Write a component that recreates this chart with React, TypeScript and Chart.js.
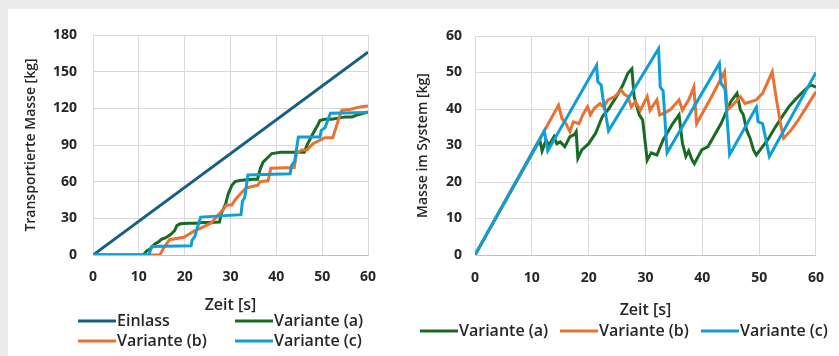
import React, { useEffect, useRef } from "react";
import { Chart, registerables } from "chart.js";

Chart.register(...registerables);

const FONT_FAMILY = "'Open Sans', 'DejaVu Sans', sans-serif";
const TEXT_COLOR = "#262626";
const GRID_COLOR = "#d9d9d9";
const AXIS_COLOR = "#bfbfbf";

// ---- series meta ----
const seriesNames = ["Einlass", "Variante (a)", "Variante (b)", "Variante (c)"];
const seriesColors = ["#156082", "#196B24", "#E97132", "#0F9ED5"];

// ---- axis tick settings ----
const timeTicks = { min: 0, max: 60, step: 10 };
const transportTicks = { min: 0, max: 180, step: 30 };
const systemTicks = { min: 0, max: 60, step: 10 };

// ---- left chart: Transportierte Masse [kg] ----
const einlassT = [0, 60];
const einlassM = [0, 166];

const transpAT = [0, 11.0, 11.6, 12.5, 13.5, 14.2, 15.0, 15.8, 17.0, 17.8, 18.3, 19.0, 21.0, 22.5, 24.0, 25.5, 27.6, 28.0, 28.9, 29.5, 30.3, 31.0, 32.0, 33.5, 35.0, 35.9, 36.5, 37.1, 38.2, 39.0, 41.0, 43.0, 45.0, 46.1, 46.7, 47.8, 48.4, 49.0, 49.5, 50.5, 52.0, 53.5, 55.0, 56.5, 58.0, 60];
const transpAM = [0, 0, 3, 5, 9, 10.5, 13, 14, 17, 20, 24, 25.5, 26, 26, 26.5, 26.5, 27, 34, 41.5, 50, 57, 60, 61, 61.5, 62, 62, 70.5, 76, 80, 83, 84, 84, 84, 84, 90, 98, 102, 106, 110, 111, 111, 112, 113, 113, 115, 117];

const transpBT = [0, 14.6, 15.3, 16.0, 16.7, 19.8, 20.5, 22.0, 23.5, 25.7, 26.9, 27.5, 28.5, 29.1, 30.3, 31.0, 32.5, 33.5, 35.9, 36.5, 37.6, 38.2, 38.8, 43.9, 44.4, 45.5, 46.7, 48.0, 50.6, 52.3, 53.0, 53.8, 54.3, 56.0, 58.0, 60];
const transpBM = [0, 0, 5, 9, 12.5, 14.5, 16, 19.5, 22, 26, 31, 33.5, 37.5, 41, 41, 45, 51.5, 55, 57, 60, 60.5, 60.5, 71, 71.5, 83, 86, 86, 91, 96, 96, 104, 113.5, 118.5, 119, 121, 122];

const transpCT = [0, 12.2, 12.8, 21.4, 21.6, 22.2, 22.5, 23.5, 32.3, 32.6, 33.1, 33.8, 43.0, 43.3, 44.0, 44.8, 49.5, 49.8, 50.6, 51.0, 51.8, 60];
const transpCM = [0, 0, 7, 7.5, 12, 15, 19, 31, 33, 44, 47, 65.5, 66.5, 73, 76.5, 96.5, 96.5, 102, 104, 108, 116, 116.5];

// ---- right chart: Masse im System [kg] ----
const systemAT = [0, 11.4, 11.8, 12.5, 13.0, 13.9, 14.4, 15.0, 15.8, 16.7, 17.5, 17.8, 18.1, 18.8, 20.0, 21.2, 22.4, 23.5, 24.9, 26.0, 26.9, 27.6, 28.0, 28.9, 29.5, 30.3, 31.0, 32.0, 33.1, 34.8, 35.9, 36.5, 37.1, 37.6, 38.2, 38.6, 39.9, 41.0, 43.3, 45.0, 46.1, 46.7, 47.2, 47.8, 48.4, 49.0, 49.5, 50.6, 51.5, 52.9, 55.2, 56.3, 58.0, 59.1, 60];
const systemAM = [0, 31.5, 28.5, 31.5, 30, 32.4, 30.5, 31, 29.7, 32.4, 33, 33.8, 26.5, 28.8, 30.5, 33.3, 37.9, 40, 43.4, 46.5, 49.8, 51, 43.4, 38.4, 37, 26, 28, 27.4, 31.5, 36, 38.4, 30.6, 27, 28.5, 26, 25, 28.8, 29.7, 36, 42, 44.3, 39.7, 38.5, 34.2, 32, 28.8, 27.4, 29.7, 31.5, 35.2, 40.6, 42.5, 45.2, 46.6, 46];

const systemBT = [0, 14.7, 15.3, 16.0, 16.7, 17.3, 18.3, 19.0, 19.8, 20.3, 21.0, 22.0, 22.6, 23.4, 24.6, 25.7, 26.3, 26.9, 27.5, 28.2, 29.1, 30.3, 30.8, 32.0, 32.5, 33.5, 34.5, 35.9, 36.5, 37.6, 38.5, 39.0, 41.5, 43.9, 44.4, 45.3, 46.7, 47.5, 48.5, 49.5, 50.6, 52.3, 53.0, 53.8, 54.3, 55.5, 56.9, 58.5, 60];
const systemBM = [0, 41, 37.4, 36, 33.8, 36.5, 36, 38.5, 40.6, 38.4, 40.2, 41.5, 40.5, 42.5, 43.4, 45.2, 44, 43.4, 40.6, 42, 39.7, 43.4, 39.7, 42.5, 38.4, 39, 40, 42.5, 39.7, 42.5, 46, 36, 43, 50.2, 39.7, 41, 43.4, 41.5, 42, 42.5, 44.3, 50.2, 43, 35.6, 32, 34, 37, 41, 44.7];

const systemCT = [0, 12.2, 12.8, 21.4, 21.6, 22.2, 22.5, 23.5, 32.3, 32.6, 33.1, 33.8, 43.0, 43.3, 44.0, 44.8, 49.5, 49.8, 50.6, 51.0, 51.8, 60];
const systemCM = [0, 34, 28.5, 52, 47.5, 46.5, 43, 34, 56.5, 46, 45, 28, 52.5, 47, 45.5, 27.5, 40.5, 36.5, 36, 33, 27, 50];

// ---- helpers ----
function toPoints(ts: number[], vs: number[]) {
  return ts.map((t, i) => ({ x: t, y: vs[i] }));
}

function lineDataset(label: string, color: string, ts: number[], vs: number[], order: number, width = 3) {
  return {
    label,
    data: toPoints(ts, vs),
    borderColor: color,
    backgroundColor: color,
    borderWidth: width,
    pointRadius: 0,
    pointHoverRadius: 0,
    showLine: true,
    tension: 0,
    fill: false,
    order,
  };
}

type LegendItem = { label: string; color: string; x: number; y: number };

function makeLegendPlugin(items: LegendItem[], lineLen: number) {
  return {
    id: "manualLegend",
    afterDraw(chart: any) {
      const ctx = chart.ctx;
      ctx.save();
      ctx.font = `600 16px ${FONT_FAMILY}`;
      ctx.textBaseline = "middle";
      ctx.textAlign = "left";
      for (const it of items) {
        ctx.strokeStyle = it.color;
        ctx.lineWidth = 3;
        ctx.beginPath();
        ctx.moveTo(it.x, it.y);
        ctx.lineTo(it.x + lineLen, it.y);
        ctx.stroke();
        ctx.fillStyle = TEXT_COLOR;
        ctx.fillText(it.label, it.x + lineLen + 1, it.y);
      }
      ctx.restore();
    },
  };
}

const tickFont = { family: FONT_FAMILY, size: 14, weight: "bold" as const };
const yTitleFont = { family: FONT_FAMILY, size: 14, weight: "600" as const };
const xTitleFont = { family: FONT_FAMILY, size: 16, weight: "600" as const };

function buildOptions(p: {
  yTicks: { min: number; max: number; step: number };
  yTitle: string;
  yWidth: number;
  yTitlePad: number;
  yTickPad: number;
  xHeight: number;
  xTickPad: number;
  padding: { left: number; top: number; right: number; bottom: number };
}) {
  return {
    responsive: false,
    maintainAspectRatio: false,
    animation: false,
    devicePixelRatio: 1,
    layout: { padding: p.padding },
    plugins: { legend: { display: false }, tooltip: { enabled: false } },
    scales: {
      x: {
        type: "linear",
        min: timeTicks.min,
        max: timeTicks.max,
        ticks: { stepSize: timeTicks.step, padding: p.xTickPad, font: tickFont, color: TEXT_COLOR },
        grid: { color: GRID_COLOR, drawTicks: false },
        border: { color: AXIS_COLOR, width: 1 },
        title: { display: true, text: "Zeit [s]", font: xTitleFont, color: TEXT_COLOR, padding: { top: 0, bottom: 0 } },
        afterFit: (s: any) => {
          s.height = p.xHeight;
        },
      },
      y: {
        type: "linear",
        min: p.yTicks.min,
        max: p.yTicks.max,
        ticks: { stepSize: p.yTicks.step, padding: p.yTickPad, font: tickFont, color: TEXT_COLOR },
        grid: { color: GRID_COLOR, drawTicks: false },
        border: { color: GRID_COLOR, width: 1 },
        title: { display: true, text: p.yTitle, font: yTitleFont, color: TEXT_COLOR, padding: { top: p.yTitlePad, bottom: 0 } },
        afterFit: (s: any) => {
          s.width = p.yWidth;
        },
      },
    },
  };
}

function ChartBox(props: { config: any; left: number; width: number; height: number }) {
  const ref = useRef<HTMLCanvasElement>(null);
  useEffect(() => {
    const chart = new Chart(ref.current as HTMLCanvasElement, props.config);
    return () => chart.destroy();
  }, []);
  return (
    <div style={{ position: "absolute", left: props.left, top: 0, width: props.width, height: props.height }}>
      <canvas ref={ref} width={props.width} height={props.height} style={{ display: "block" }} />
    </div>
  );
}

const LEFT_W = 400;
const RIGHT_W = 431;
const H = 347;

const leftConfig = {
  type: "scatter",
  data: {
    datasets: [
      lineDataset(seriesNames[0], seriesColors[0], einlassT, einlassM, 3, 3),
      lineDataset(seriesNames[1], seriesColors[1], transpAT, transpAM, 2),
      lineDataset(seriesNames[2], seriesColors[2], transpBT, transpBM, 1),
      lineDataset(seriesNames[3], seriesColors[3], transpCT, transpCM, 0),
    ],
  },
  options: buildOptions({
    yTicks: transportTicks,
    yTitle: "Transportierte Masse [kg]",
    yWidth: 85,
    yTitlePad: 15,
    yTickPad: 16,
    xHeight: 60,
    xTickPad: 14,
    padding: { left: 0, top: 26, right: 40, bottom: H - 246 - 60 },
  }),
  plugins: [
    makeLegendPlugin(
      [
        { label: seriesNames[0], color: seriesColors[0], x: 70, y: 312 },
        { label: seriesNames[1], color: seriesColors[1], x: 227, y: 312 },
        { label: seriesNames[2], color: seriesColors[2], x: 70, y: 332 },
        { label: seriesNames[3], color: seriesColors[3], x: 227, y: 332 },
      ],
      38
    ),
  ],
};

const rightConfig = {
  type: "scatter",
  data: {
    datasets: [
      lineDataset(seriesNames[1], seriesColors[1], systemAT, systemAM, 2),
      lineDataset(seriesNames[2], seriesColors[2], systemBT, systemBM, 1),
      lineDataset(seriesNames[3], seriesColors[3], systemCT, systemCM, 0),
    ],
  },
  options: buildOptions({
    yTicks: systemTicks,
    yTitle: "Masse im System [kg]",
    yWidth: 67,
    yTitlePad: 7,
    yTickPad: 13,
    xHeight: 65,
    xTickPad: 15,
    padding: { left: 0, top: 27, right: 11, bottom: H - 246 - 65 },
  }),
  plugins: [
    makeLegendPlugin(
      [
        { label: seriesNames[1], color: seriesColors[1], x: 12, y: 322 },
        { label: seriesNames[2], color: seriesColors[2], x: 152, y: 322 },
        { label: seriesNames[3], color: seriesColors[3], x: 293, y: 322 },
      ],
      38
    ),
  ],
};

export default function App() {
  useEffect(() => {
    document.body.style.background = "#ebebeb";
  }, []);
  return (
    <div style={{ position: "fixed", left: 8, top: 9, width: 831, height: H, background: "#ffffff" }}>
      <ChartBox config={leftConfig} left={0} width={LEFT_W} height={H} />
      <ChartBox config={rightConfig} left={400} width={RIGHT_W} height={H} />
    </div>
  );
}
